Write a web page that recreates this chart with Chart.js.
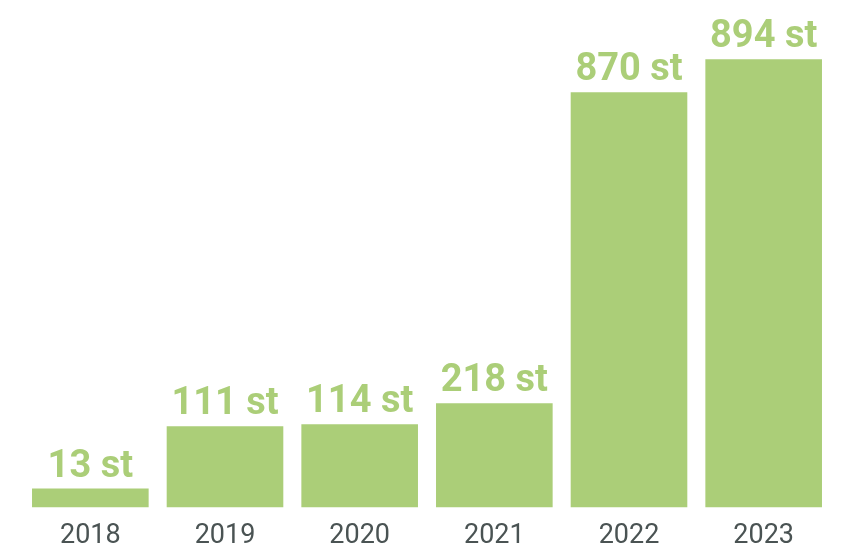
<!DOCTYPE html>
<html lang="sv">
<head>
    <meta charset="UTF-8">
    <title>Antal per år</title>
    <script src="https://cdn.jsdelivr.net/npm/chart.js"></script>
    <style>
        body {
            margin: 0;
            background-color: #fff;
        }
        #wrap {
            width: 852px;
            height: 547px;
        }
    </style>
</head>
<body>
    <div id="wrap">
        <canvas id="yearChart"></canvas>
    </div>

    <script>
        const years = ['2018', '2019', '2020', '2021', '2022', '2023'];
        // counts shown above each bar
        const counts = [13, 111, 114, 218, 870, 894];
        // bar lengths as drawn in the picture (the picture is not to scale)
        const barHeights = [38, 162, 166, 208, 828, 894];

        const green = '#abce78';
        const grey = '#4a5353';

        const valueLabels = {
            id: 'valueLabels',
            afterDatasetsDraw(chart) {
                const ctx = chart.ctx;
                const meta = chart.getDatasetMeta(0);
                ctx.save();
                ctx.fillStyle = green;
                ctx.font = 'bold 38px Roboto';
                ctx.textAlign = 'center';
                ctx.textBaseline = 'alphabetic';
                meta.data.forEach((bar, i) => {
                    ctx.fillText(counts[i] + ' st', bar.x, bar.y - 12);
                });
                ctx.restore();
            }
        };

        const ctx = document.getElementById('yearChart').getContext('2d');
        new Chart(ctx, {
            type: 'bar',
            data: {
                labels: years,
                datasets: [{
                    data: barHeights,
                    backgroundColor: green,
                    borderWidth: 0,
                    barPercentage: 0.866,
                    categoryPercentage: 1
                }]
            },
            options: {
                responsive: true,
                maintainAspectRatio: false,
                animation: false,
                layout: {
                    padding: { left: 23, right: 21, top: 6, bottom: -9 }
                },
                plugins: {
                    legend: { display: false },
                    tooltip: { enabled: false }
                },
                scales: {
                    x: {
                        grid: { display: false },
                        border: { display: false },
                        ticks: {
                            color: grey,
                            padding: 4,
                            font: { family: 'Roboto', size: 27 }
                        }
                    },
                    y: {
                        display: false,
                        min: 0,
                        max: 1000
                    }
                }
            },
            plugins: [valueLabels]
        });
    </script>
</body>
</html>
